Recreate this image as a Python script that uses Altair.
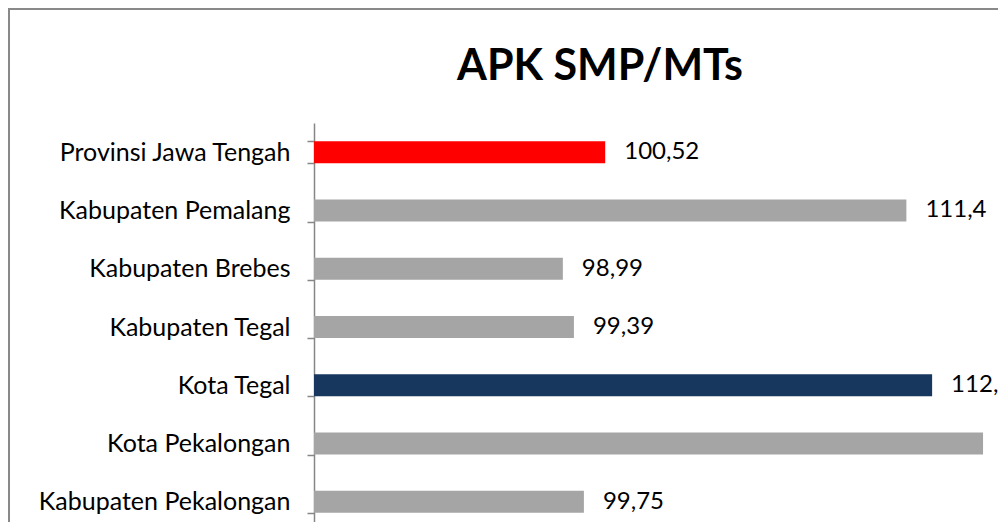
import altair as alt
import pandas as pd

categories = [
    "Provinsi Jawa Tengah",
    "Kabupaten Pemalang",
    "Kabupaten Brebes",
    "Kabupaten Tegal",
    "Kota Tegal",
    "Kota Pekalongan",
    "Kabupaten Pekalongan",
]
values = [100.52, 111.4, 98.99, 99.39, 112.33, 114.17, 99.75]
colors = ["#FF0000", "#A5A5A5", "#A5A5A5", "#A5A5A5", "#17375E", "#A5A5A5", "#A5A5A5"]

df = pd.DataFrame({"kategori": categories, "nilai": values, "warna": colors})

FONT = "Lato"
AXIS_GRAY = "#868686"

y_enc = alt.Y(
    "kategori:N",
    sort=categories,
    title=None,
    scale=alt.Scale(range=[0, 408], paddingInner=0.62, paddingOuter=0.31),
    axis=alt.Axis(
        ticks=True,
        tickBand="extent",
        labelFont=FONT,
        labelFontSize=25,
        labelColor="#000000",
        labelPadding=17,
        labelLimit=0,
        tickSize=7,
        tickColor=AXIS_GRAY,
        tickWidth=1.5,
        domainColor=AXIS_GRAY,
        domainWidth=1.5,
        grid=False,
    ),
)
x_scale = alt.Scale(domain=[90, 114.71], zero=False, nice=False)

base = alt.Chart(df)

bars = base.mark_bar(size=22).encode(
    y=y_enc,
    x=alt.X("nilai:Q", scale=x_scale, axis=None),
    x2=alt.X2(datum=90),
    color=alt.Color("warna:N", scale=None),
)

labels = base.transform_calculate(
    label="replace(toString(datum.nilai), '.', ',')"
).mark_text(align="left", baseline="middle", dx=19, font=FONT, fontSize=24, color="#000000").encode(
    y=alt.Y("kategori:N", sort=categories),
    x=alt.X("nilai:Q", scale=x_scale),
    text="label:N",
)

one = alt.Chart(pd.DataFrame({"a": [0]}))
frame = one.mark_rect(fillOpacity=0, stroke="#898989", strokeWidth=2).encode(
    x=alt.value(-305), x2=alt.value(900), y=alt.value(-114), y2=alt.value(600)
)
title = one.mark_text(
    text="APK SMP/MTs", font=FONT, fontSize=43, fontWeight="bold",
    align="center", baseline="alphabetic", color="#000000",
).encode(x=alt.value(286), y=alt.value(-43))

chart = (
    alt.layer(frame, bars, labels, title)
    .properties(
        width=684,
        height=399,
        autosize="none",
        padding={"left": 306, "top": 115, "right": 0, "bottom": 0},
        background="#FFFFFF",
    )
    .configure_view(strokeWidth=0)
)

chart.save("out.html", embed_options={"renderer": "svg", "actions": False})
